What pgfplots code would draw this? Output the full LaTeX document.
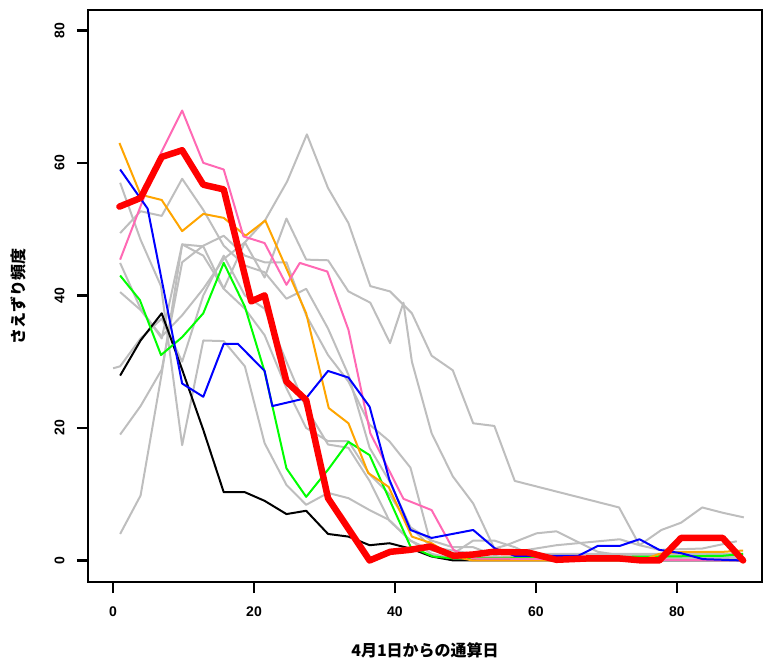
\documentclass[border=0pt]{standalone}
\usepackage{pgfplots}
\pgfplotsset{compat=1.18}
\usepackage{fontspec}
\setmainfont{Liberation Sans}
\newfontfamily\cjk{Noto Sans CJK JP}
\definecolor{rgray}{RGB}{190,190,190}
\definecolor{rgreen}{RGB}{0,255,0}
\definecolor{rorange}{RGB}{255,165,0}
\definecolor{rpink}{RGB}{255,105,180}
\begin{document}
\begin{tikzpicture}
\useasboundingbox (-88bp,-80bp) rectangle (681bp,582bp);
\begin{axis}[
  scale only axis, width=674bp, height=572bp,
  at={(0,0)}, anchor=south west,
  xmin=-3.56, xmax=92.08, ymin=-3.25, ymax=83.07,
  xtick={0,20,40,60,80}, ytick={0,20,40,60,80},
  tick pos=left, tick align=outside, major tick length=11bp,
  axis line style={line width=2.5bp},
  every tick/.style={line width=2.5bp, black},
  tick label style={font=\fontsize{14bp}{16bp}\selectfont\bfseries},
  yticklabel style={rotate=90, anchor=south, yshift=9bp},
  xticklabel style={yshift=-10bp},
  xlabel={\cjk\bfseries 4月1日からの通算日},
  ylabel={\cjk\bfseries さえずり頻度},
  label style={font=\fontsize{16bp}{18bp}\selectfont},
  xlabel style={at={(axis description cs:0.5,0)}, anchor=center, yshift=-68bp},
  ylabel style={at={(axis description cs:0,0.5)}, anchor=center, yshift=70bp},
  /pgf/number format/assume math mode=true,
  clip=true,
]
\pgfplotsset{gr/.style={color=rgray, line width=2bp, line join=round}}
% gray series
\addplot[gr] coordinates {(1,49.4)(3.9,52.7)(6.9,52.0)(9.8,57.6)(12.8,52.9)(15.7,47.5)(18.7,44.5)(21.5,43.5)(24.6,39.5)(27.4,41)(30.5,35)(33.4,28)(36.4,17)(39.2,12)(42.2,5)(45.2,2)(48.2,1)(51,0.5)(89.4,0.5)};
\addplot[gr] coordinates {(1,57)(3.9,48.4)(6.8,41.4)(9.8,17.4)(12.8,33.2)(15.7,33.1)(18.7,29.3)(21.5,17.7)(24.6,11.4)(27.4,8.4)(30.5,10.2)(33.4,9.4)(36.4,7.6)(39.2,6.1)(42.2,3)(45.2,1)(48.2,0.3)(89.4,0.3)};
\addplot[gr] coordinates {(1,44.9)(3.9,38)(6.9,33.5)(9.8,47.7)(12.8,47.4)(15.7,41)(18.7,48)(21.5,42.7)(24.6,51.6)(27.4,45.4)(30.5,45.3)(33.4,40.6)(36.5,38.9)(39.3,32.8)(41.2,38.9)(42.4,30.0)(45.2,19.2)(48.2,12.7)(51.1,8.6)(54.1,1.8)(55.8,2.3)(60.1,4.1)(62.9,4.4)(68.8,1.3)(71.9,0.8)(89.4,0.8)};
\addplot[gr] coordinates {(1,40.5)(3.9,37.8)(6.9,33.8)(9.8,37)(12.8,41)(15.7,45.5)(18.7,48)(21.6,51.4)(24.7,57.2)(27.5,64.3)(30.5,56.2)(33.4,50.9)(36.5,41.4)(39.3,40.6)(42.4,37.3)(45.2,30.9)(48.2,28.7)(51.1,20.7)(54.1,20.3)(57.0,12.0)(71.8,8.0)(74.7,2.3)(77.8,4.6)(80.6,5.7)(83.6,8.0)(86.5,7.2)(89.5,6.5)};
\addplot[gr] coordinates {(0,29.0)(1,29.3)(3.9,33.5)(6.9,36.5)(9.8,30)(12.8,40)(15.7,46)(18.7,40)(21.5,38)(24.6,30)(27.4,23)(30.5,17.5)(33.4,17)(36.4,12)(39.2,6)(42.2,3)(45.2,1.5)(48.2,1)(51.1,3)(54.1,3)(57,2)(60.1,0.5)(89.4,0.5)};
\addplot[gr] coordinates {(1,19)(3.9,23.3)(6.9,28.8)(9.8,45)(12.8,47.5)(15.7,49)(18.7,46)(21.5,45)(24.6,45)(27.4,37)(30.5,31)(33.4,27)(36.4,20.5)(39.2,18)(42.2,14)(45.2,2)(48.2,1.5)(51.1,1)(60,1)(89.4,1)};
\addplot[gr] coordinates {(1,4)(3.9,9.8)(6.9,28.2)(9.8,47.7)(12.8,46)(15.7,41)(18.7,38)(21.5,34)(24.6,26)(27.4,20)(30.5,18)(33.4,18)(36.4,13)(39.2,10)(42.2,5)(45.2,3)(48.2,2)(51.1,2)(54.1,0.8)(62.9,2.3)(71.9,3.2)(74.7,2.3)(77.5,1.6)(83.6,1.8)(88.5,2.9)};
% coloured series
\addplot[black, line width=2bp, line join=round] coordinates {(1.0,27.9)(3.9,33.2)(6.9,37.3)(9.8,28.8)(12.8,19.7)(15.7,10.3)(18.7,10.3)(21.5,9.0)(24.6,7.0)(27.4,7.5)(30.5,4.0)(33.4,3.6)(36.4,2.3)(39.2,2.6)(42.2,1.8)(45.2,0.6)(48.3,0)(89.4,0)};
\addplot[color=rgreen, line width=2bp, line join=round] coordinates {(1.0,43.0)(3.8,39.3)(6.8,31.0)(9.8,33.7)(12.8,37.3)(15.7,44.9)(18.7,38.3)(21.5,28.5)(24.6,13.9)(27.4,9.6)(30.5,13.7)(33.4,17.9)(36.4,15.9)(42.2,2.1)(45.4,0.6)(48.3,0.3)(77.5,0.6)(86.5,0.7)(89.4,1.0)};
\addplot[color=rorange, line width=2bp, line join=round] coordinates {(0.9,63.0)(3.9,55.2)(6.9,54.4)(9.8,49.7)(12.8,52.3)(15.7,51.7)(18.8,49.0)(21.6,51.3)(27.4,37.3)(30.6,23.0)(33.4,20.7)(36.2,13.2)(39.1,11.1)(42.4,3.6)(45.2,2.6)(48.3,0.6)(51.0,0)(75,0)(77.5,1.0)(80.6,1.3)(86.5,1.3)(89.4,1.5)};
\addplot[color=rpink, line width=2bp, line join=round] coordinates {(1.0,45.4)(6.8,61.5)(9.8,67.9)(12.8,60.0)(15.7,59.0)(18.5,48.9)(21.5,47.9)(24.6,41.6)(26.5,44.9)(30.4,43.6)(33.4,34.8)(36.5,19.2)(41.2,9.3)(45.2,7.6)(48.3,1.6)(51.1,0.3)(89.4,0)};
\addplot[blue, line width=2bp, line join=round] coordinates {(1.0,59.0)(4.9,53.1)(9.8,26.7)(12.8,24.7)(15.7,32.7)(17.7,32.7)(21.5,28.6)(22.6,23.3)(27.4,24.5)(30.5,28.6)(33.4,27.6)(36.4,23.2)(39.2,12.2)(42.2,4.6)(45.2,3.4)(51.1,4.6)(54.2,1.8)(57.0,0.7)(66.0,0.7)(68.8,2.2)(71.9,2.2)(74.7,3.2)(77.5,1.6)(80.6,1.1)(83.7,0.2)(89.4,0)};
\addplot[red, line width=6.5bp, line join=round, line cap=round] coordinates {(0.9,53.4)(3.9,54.7)(6.9,60.9)(9.8,61.9)(12.8,56.7)(15.7,56.0)(19.6,39.1)(21.5,40.0)(24.6,27.0)(27.4,24.2)(30.5,9.4)(36.4,0)(39.3,1.3)(42.1,1.6)(45.0,2.1)(48.3,0.7)(51.1,0.9)(53.9,1.3)(58.9,1.2)(62.9,0.1)(67.2,0.3)(71.9,0.3)(75.0,0)(77.5,0)(80.6,3.4)(86.5,3.4)(89.4,0)};
\end{axis}
\end{tikzpicture}
\end{document}
